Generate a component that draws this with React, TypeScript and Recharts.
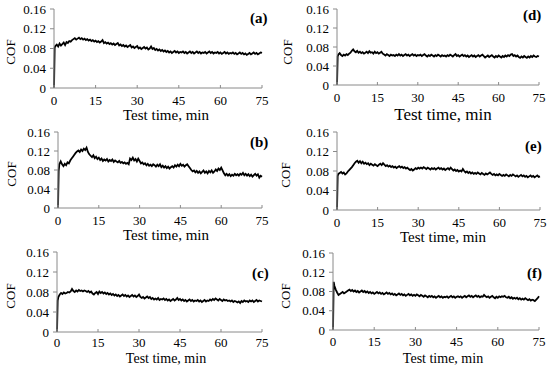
import { Line, LineChart, XAxis, YAxis } from "recharts";

const FONT = "Liberation Serif, Times New Roman, serif";
const AXIS = "#8a8a8a";

const X_TICKS = [0, 15, 30, 45, 60, 75];
const Y_TICKS = [0, 0.04, 0.08, 0.12, 0.16];

// test time (min)
const TIME = [
  0, 0.25, 0.5,
  1, 1.5, 2, 2.5, 3, 3.5, 4, 4.5, 5, 5.5,
  6, 6.5, 7, 7.5, 8, 8.5, 9, 9.5, 10, 10.5,
  11, 11.5, 12, 12.5, 13, 13.5, 14, 14.5, 15, 15.5,
  16, 16.5, 17, 17.5, 18, 18.5, 19, 19.5, 20, 20.5,
  21, 21.5, 22, 22.5, 23, 23.5, 24, 24.5, 25, 25.5,
  26, 26.5, 27, 27.5, 28, 28.5, 29, 29.5, 30, 30.5,
  31, 31.5, 32, 32.5, 33, 33.5, 34, 34.5, 35, 35.5,
  36, 36.5, 37, 37.5, 38, 38.5, 39, 39.5, 40, 40.5,
  41, 41.5, 42, 42.5, 43, 43.5, 44, 44.5, 45, 45.5,
  46, 46.5, 47, 47.5, 48, 48.5, 49, 49.5, 50, 50.5,
  51, 51.5, 52, 52.5, 53, 53.5, 54, 54.5, 55, 55.5,
  56, 56.5, 57, 57.5, 58, 58.5, 59, 59.5, 60, 60.5,
  61, 61.5, 62, 62.5, 63, 63.5, 64, 64.5, 65, 65.5,
  66, 66.5, 67, 67.5, 68, 68.5, 69, 69.5, 70, 70.5,
  71, 71.5, 72, 72.5, 73, 73.5, 74, 74.5, 75,
];

const COF_A = [
  0, 0.082, 0.085,
  0.088, 0.084, 0.090, 0.086, 0.089, 0.092, 0.087, 0.093, 0.091, 0.095,
  0.094, 0.097, 0.099, 0.101, 0.098, 0.100, 0.102, 0.099, 0.101, 0.098,
  0.100, 0.097, 0.099, 0.096, 0.098, 0.095, 0.097, 0.094, 0.096, 0.093,
  0.095, 0.092, 0.094, 0.097, 0.091, 0.093, 0.090, 0.092, 0.089, 0.091,
  0.088, 0.090, 0.087, 0.089, 0.091, 0.086, 0.088, 0.085, 0.087, 0.084,
  0.086, 0.083, 0.085, 0.087, 0.082, 0.084, 0.081, 0.083, 0.085, 0.080,
  0.082, 0.079, 0.081, 0.083, 0.080, 0.082, 0.078, 0.080, 0.084, 0.079,
  0.081, 0.077, 0.079, 0.076, 0.078, 0.075, 0.077, 0.074, 0.076, 0.073,
  0.075, 0.072, 0.074, 0.071, 0.073, 0.075, 0.072, 0.074, 0.071, 0.073,
  0.072, 0.074, 0.071, 0.073, 0.070, 0.072, 0.074, 0.071, 0.073, 0.070,
  0.072, 0.074, 0.071, 0.073, 0.070, 0.072, 0.071, 0.073, 0.070, 0.072,
  0.074, 0.071, 0.073, 0.070, 0.072, 0.071, 0.073, 0.070, 0.072, 0.069,
  0.071, 0.073, 0.070, 0.072, 0.069, 0.071, 0.070, 0.072, 0.069, 0.071,
  0.068, 0.070, 0.072, 0.069, 0.071, 0.068, 0.070, 0.067, 0.069, 0.071,
  0.068, 0.070, 0.072, 0.069, 0.071, 0.068, 0.070, 0.072, 0.071,
];

const COF_B = [
  0, 0.078, 0.092,
  0.098, 0.092, 0.088, 0.093, 0.090, 0.096, 0.094, 0.100, 0.104, 0.108,
  0.112, 0.116, 0.119, 0.121, 0.118, 0.123, 0.120, 0.125, 0.122, 0.127,
  0.118, 0.113, 0.110, 0.107, 0.111, 0.105, 0.108, 0.103, 0.106, 0.101,
  0.104, 0.099, 0.102, 0.100, 0.103, 0.098, 0.101, 0.099, 0.102, 0.097,
  0.100, 0.098, 0.096, 0.099, 0.095, 0.097, 0.094, 0.096, 0.093, 0.095,
  0.092, 0.104, 0.101, 0.106, 0.100, 0.103, 0.098, 0.104, 0.099, 0.094,
  0.096, 0.092, 0.094, 0.090, 0.093, 0.089, 0.091, 0.088, 0.092, 0.090,
  0.087, 0.091, 0.088, 0.092, 0.086, 0.089, 0.085, 0.088, 0.084, 0.087,
  0.083, 0.086, 0.088, 0.085, 0.090, 0.087, 0.091, 0.088, 0.093, 0.089,
  0.091, 0.087, 0.090, 0.092, 0.088, 0.084, 0.080, 0.077, 0.079, 0.075,
  0.078, 0.074, 0.077, 0.073, 0.076, 0.079, 0.074, 0.077, 0.073, 0.078,
  0.075, 0.079, 0.074, 0.077, 0.081, 0.078, 0.083, 0.080, 0.085, 0.079,
  0.073, 0.069, 0.072, 0.068, 0.071, 0.067, 0.070, 0.068, 0.072, 0.069,
  0.071, 0.068, 0.072, 0.070, 0.074, 0.069, 0.072, 0.068, 0.071, 0.067,
  0.070, 0.066, 0.069, 0.072, 0.068, 0.071, 0.064, 0.068, 0.066,
];

const COF_C = [
  0, 0.063, 0.070,
  0.075, 0.078, 0.076, 0.079, 0.077, 0.078, 0.080, 0.079, 0.081, 0.086,
  0.082, 0.080, 0.083, 0.081, 0.084, 0.082, 0.083, 0.081, 0.083, 0.082,
  0.080, 0.082, 0.079, 0.081, 0.077, 0.075, 0.078, 0.080, 0.076, 0.081,
  0.078, 0.080, 0.077, 0.079, 0.076, 0.078, 0.075, 0.077, 0.074, 0.076,
  0.073, 0.075, 0.072, 0.074, 0.071, 0.073, 0.075, 0.072, 0.074, 0.071,
  0.073, 0.070, 0.072, 0.074, 0.071, 0.073, 0.070, 0.072, 0.075, 0.070,
  0.068, 0.070, 0.067, 0.069, 0.071, 0.068, 0.070, 0.066, 0.068, 0.065,
  0.067, 0.065, 0.068, 0.064, 0.066, 0.065, 0.067, 0.064, 0.066, 0.063,
  0.065, 0.062, 0.064, 0.066, 0.063, 0.065, 0.068, 0.064, 0.066, 0.063,
  0.065, 0.062, 0.064, 0.061, 0.063, 0.065, 0.062, 0.064, 0.061, 0.063,
  0.062, 0.064, 0.061, 0.063, 0.060, 0.062, 0.064, 0.061, 0.063, 0.062,
  0.065, 0.063, 0.066, 0.064, 0.067, 0.065, 0.063, 0.066, 0.064, 0.062,
  0.065, 0.063, 0.064, 0.062, 0.063, 0.061, 0.063, 0.060, 0.062, 0.061,
  0.059, 0.061, 0.058, 0.062, 0.060, 0.063, 0.061, 0.062, 0.060, 0.063,
  0.061, 0.063, 0.060, 0.062, 0.064, 0.061, 0.063, 0.062, 0.061,
];

const COF_D = [
  0, 0.060, 0.064,
  0.067, 0.063, 0.061, 0.064, 0.062, 0.065, 0.063, 0.066, 0.068, 0.072,
  0.075, 0.071, 0.069, 0.072, 0.068, 0.070, 0.067, 0.069, 0.066, 0.068,
  0.070, 0.067, 0.071, 0.068, 0.069, 0.066, 0.070, 0.067, 0.069, 0.066,
  0.068, 0.070, 0.066, 0.064, 0.062, 0.065, 0.063, 0.061, 0.064, 0.062,
  0.063, 0.061, 0.064, 0.062, 0.065, 0.062, 0.064, 0.061, 0.063, 0.065,
  0.062, 0.064, 0.061, 0.063, 0.065, 0.062, 0.064, 0.061, 0.063, 0.062,
  0.064, 0.061, 0.063, 0.065, 0.062, 0.060, 0.063, 0.061, 0.064, 0.062,
  0.060, 0.063, 0.061, 0.064, 0.062, 0.060, 0.063, 0.061, 0.062, 0.060,
  0.063, 0.061, 0.064, 0.062, 0.060, 0.063, 0.065, 0.061, 0.063, 0.060,
  0.062, 0.064, 0.061, 0.063, 0.060, 0.062, 0.059, 0.061, 0.063, 0.060,
  0.062, 0.059, 0.061, 0.063, 0.060, 0.062, 0.064, 0.061, 0.058, 0.060,
  0.062, 0.059, 0.061, 0.063, 0.060, 0.058, 0.061, 0.059, 0.062, 0.060,
  0.058, 0.061, 0.059, 0.062, 0.060, 0.063, 0.061, 0.064, 0.065, 0.061,
  0.063, 0.060, 0.062, 0.059, 0.057, 0.060, 0.058, 0.061, 0.059, 0.057,
  0.060, 0.058, 0.061, 0.059, 0.062, 0.060, 0.059, 0.061, 0.060,
];

const COF_E = [
  0, 0.070, 0.074,
  0.076, 0.078, 0.075, 0.077, 0.073, 0.075, 0.079, 0.082, 0.085, 0.088,
  0.092, 0.096, 0.099, 0.101, 0.097, 0.100, 0.096, 0.099, 0.095, 0.097,
  0.094, 0.096, 0.092, 0.095, 0.093, 0.091, 0.094, 0.092, 0.090, 0.093,
  0.095, 0.092, 0.096, 0.093, 0.090, 0.092, 0.089, 0.091, 0.088, 0.090,
  0.087, 0.089, 0.086, 0.088, 0.090, 0.087, 0.089, 0.086, 0.088, 0.085,
  0.087, 0.084, 0.082, 0.084, 0.081, 0.083, 0.086, 0.084, 0.087, 0.085,
  0.087, 0.085, 0.088, 0.086, 0.084, 0.087, 0.085, 0.083, 0.086, 0.084,
  0.086, 0.083, 0.085, 0.087, 0.084, 0.086, 0.083, 0.085, 0.082, 0.084,
  0.086, 0.083, 0.087, 0.084, 0.081, 0.083, 0.080, 0.082, 0.079, 0.081,
  0.079, 0.084, 0.080, 0.077, 0.079, 0.076, 0.078, 0.075, 0.077, 0.074,
  0.076, 0.074, 0.077, 0.075, 0.073, 0.076, 0.074, 0.072, 0.075, 0.073,
  0.075, 0.077, 0.074, 0.072, 0.074, 0.071, 0.073, 0.071, 0.074, 0.072,
  0.070, 0.072, 0.070, 0.073, 0.071, 0.069, 0.072, 0.070, 0.073, 0.071,
  0.069, 0.071, 0.068, 0.070, 0.072, 0.069, 0.071, 0.068, 0.070, 0.067,
  0.069, 0.071, 0.068, 0.070, 0.067, 0.069, 0.071, 0.068, 0.069,
];

const COF_F = [
  0, 0.100, 0.092,
  0.084, 0.078, 0.073, 0.075, 0.077, 0.079, 0.076, 0.078, 0.080, 0.082,
  0.084, 0.081, 0.083, 0.080, 0.082, 0.079, 0.081, 0.078, 0.080, 0.082,
  0.079, 0.081, 0.078, 0.080, 0.077, 0.079, 0.076, 0.078, 0.075, 0.077,
  0.079, 0.076, 0.078, 0.075, 0.077, 0.074, 0.076, 0.078, 0.075, 0.077,
  0.074, 0.076, 0.073, 0.075, 0.072, 0.074, 0.076, 0.073, 0.075, 0.072,
  0.074, 0.071, 0.073, 0.075, 0.072, 0.074, 0.071, 0.073, 0.071, 0.074,
  0.072, 0.070, 0.073, 0.071, 0.069, 0.072, 0.070, 0.068, 0.071, 0.069,
  0.071, 0.068, 0.070, 0.067, 0.069, 0.071, 0.068, 0.070, 0.067, 0.069,
  0.068, 0.070, 0.067, 0.069, 0.071, 0.068, 0.070, 0.067, 0.069, 0.070,
  0.068, 0.070, 0.067, 0.069, 0.071, 0.068, 0.070, 0.072, 0.069, 0.071,
  0.068, 0.070, 0.072, 0.069, 0.071, 0.068, 0.070, 0.069, 0.073, 0.070,
  0.068, 0.070, 0.067, 0.069, 0.071, 0.068, 0.066, 0.069, 0.067, 0.070,
  0.068, 0.070, 0.069, 0.071, 0.068, 0.067, 0.069, 0.066, 0.068, 0.065,
  0.067, 0.065, 0.067, 0.064, 0.066, 0.063, 0.065, 0.063, 0.066, 0.064,
  0.062, 0.064, 0.061, 0.063, 0.062, 0.060, 0.063, 0.066, 0.070,
];

type PanelCfg = {
  tag: string;
  series: number[];
  left: number;
  top: number;
  w: number;
  h: number;
  pl: number; // plot left
  pr: number; // plot right
  pt: number; // plot top
  pb: number; // plot bottom
  tickGap: number;
  tx: number;
  ty: number;
  titleSize: number;
  cofX: number;
  cofY: number;
  tagX: number;
  tagY: number;
};

const PANELS: PanelCfg[] = [
  { tag: "(a)", series: COF_A, left: 0, top: 0, w: 275, h: 123, pl: 54, pr: 262, pt: 9, pb: 88, tickGap: 11, tx: 166, ty: 115, titleSize: 15, cofX: 11, cofY: 52, tagX: 250, tagY: 18 },
  { tag: "(b)", series: COF_B, left: 0, top: 120, w: 275, h: 125, pl: 58, pr: 262, pt: 12, pb: 88, tickGap: 11, tx: 166, ty: 115, titleSize: 15, cofX: 12, cofY: 54, tagX: 250, tagY: 22 },
  { tag: "(c)", series: COF_C, left: 0, top: 240, w: 275, h: 128, pl: 57, pr: 262, pt: 12, pb: 92, tickGap: 9, tx: 166, ty: 119, titleSize: 14, cofX: 11, cofY: 56, tagX: 252, tagY: 33 },
  { tag: "(d)", series: COF_D, left: 275, top: 0, w: 275, h: 123, pl: 62, pr: 264, pt: 9, pb: 85, tickGap: 11, tx: 168, ty: 115, titleSize: 17, cofX: 13, cofY: 52, tagX: 248, tagY: 15 },
  { tag: "(e)", series: COF_E, left: 275, top: 120, w: 275, h: 125, pl: 62, pr: 265, pt: 12, pb: 90, tickGap: 11, tx: 168, ty: 117, titleSize: 15, cofX: 11, cofY: 55, tagX: 250, tagY: 26 },
  { tag: "(f)", series: COF_F, left: 275, top: 240, w: 275, h: 128, pl: 58, pr: 264, pt: 13, pb: 90, tickGap: 10, tx: 168, ty: 119, titleSize: 14, cofX: 11, cofY: 56, tagX: 252, tagY: 33 },
];

function Panel({ cfg }: { cfg: PanelCfg }) {
  const data = TIME.map((t, i) => ({ t, v: cfg.series[i] }));
  const tickStyle = { fontSize: 13, fill: "#000", style: { fontFamily: FONT } };

  return (
    <div
      style={{
        position: "absolute",
        left: cfg.left,
        top: cfg.top,
        width: cfg.w,
        height: cfg.h,
        fontFamily: FONT,
        color: "#000",
      }}
    >
      <LineChart
        width={cfg.w}
        height={cfg.h}
        data={data}
        style={{ fontFamily: FONT }}
        margin={{ top: cfg.pt, right: cfg.w - cfg.pr, left: 0, bottom: 0 }}
      >
        <XAxis
          type="number"
          dataKey="t"
          domain={[0, 75]}
          ticks={X_TICKS}
          interval={0}
          height={cfg.h - cfg.pb}
          stroke={AXIS}
          tickSize={-3}
          tickMargin={cfg.tickGap}
          tick={tickStyle}
        />
        <YAxis
          type="number"
          domain={[0, 0.16]}
          ticks={Y_TICKS}
          interval={0}
          width={cfg.pl}
          stroke={AXIS}
          tickSize={4}
          tickMargin={4}
          tick={tickStyle}
          tickFormatter={(v: number) => (v === 0 ? "0" : v.toFixed(2))}
        />
        <Line
          type="linear"
          dataKey="v"
          stroke="#000"
          strokeWidth={1.8}
          dot={false}
          isAnimationActive={false}
        />
      </LineChart>
      <div
        style={{
          position: "absolute",
          left: cfg.tx - 100,
          top: cfg.ty - 9,
          width: 200,
          textAlign: "center",
          fontSize: cfg.titleSize,
          lineHeight: "18px",
          whiteSpace: "nowrap",
        }}
      >
        Test time, min
      </div>
      <div
        style={{
          position: "absolute",
          left: cfg.cofX - 20,
          top: cfg.cofY - 8,
          width: 40,
          textAlign: "center",
          fontSize: 13,
          lineHeight: "16px",
          transform: "rotate(-90deg)",
        }}
      >
        COF
      </div>
      <span
        style={{
          position: "absolute",
          left: cfg.tagX,
          top: cfg.tagY - 8,
          fontWeight: "bold",
          fontSize: 15,
          lineHeight: "16px",
        }}
      >
        {cfg.tag}
      </span>
    </div>
  );
}

export default function App() {
  return (
    <div style={{ position: "absolute", left: 0, top: 0, width: 550, height: 368, background: "#fff" }}>
      {PANELS.map((p) => (
        <Panel key={p.tag} cfg={p} />
      ))}
    </div>
  );
}
